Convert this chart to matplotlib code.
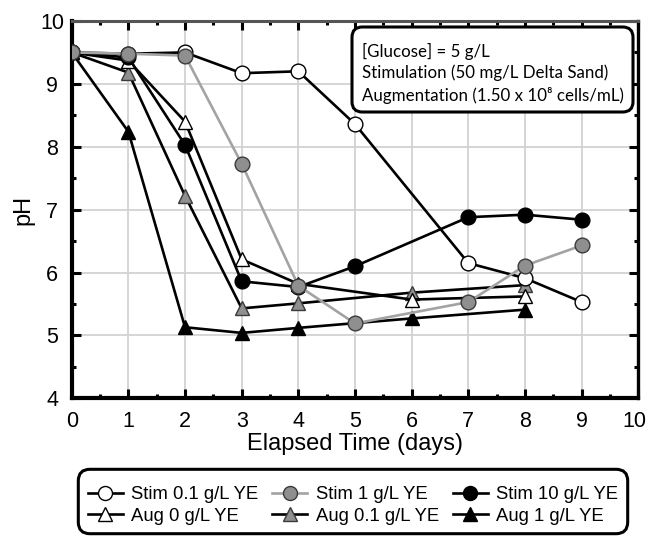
import matplotlib
matplotlib.use("Agg")
import matplotlib.pyplot as plt
from matplotlib.patches import FancyBboxPatch
from matplotlib.ticker import MultipleLocator, FuncFormatter

plt.rcParams['font.family'] = ['Liberation Sans', 'DejaVu Sans']

days_stim = [0, 1, 2, 3, 4, 5, 7, 8, 9]
stim_01 = [9.50, 9.48, 9.50, 9.17, 9.20, 8.36, 6.15, 5.91, 5.53]
stim_1 = [9.50, 9.48, 9.45, 7.73, 5.79, 5.19, 5.53, 6.11, 6.43]
stim_10 = [9.50, 9.42, 8.03, 5.86, 5.77, 6.10, 6.88, 6.92, 6.84]

days_aug = [0, 1, 2, 3, 4, 6, 8]
aug_0 = [9.50, 9.37, 8.40, 6.21, 5.82, 5.57, 5.62]
aug_01 = [9.50, 9.18, 7.22, 5.43, 5.51, 5.68, 5.80]
aug_1 = [9.50, 8.24, 5.13, 5.04, 5.12, 5.27, 5.41]

labels = ["Stim 0.1 g/L YE", "Stim 1 g/L YE", "Stim 10 g/L YE",
          "Aug 0 g/L YE", "Aug 0.1 g/L YE", "Aug 1 g/L YE"]
annot_lines = ["[Glucose] = 5 g/L", "Stimulation (50 mg/L Delta Sand)",
               "Augmentation (1.50 x 10\u2078 cells/mL)"]

GRAY = "#8f8f8f"
LGRAY = "#a3a3a3"
DEDGE = "#3a3a3a"

W, H = 646, 537
fig = plt.figure(figsize=(W / 100, H / 100), dpi=100)
ax = fig.add_axes([71.7 / W, 1 - 398.3 / H, 566.6 / W, 377.3 / H])

lw = 1.9
ms_c = 10.6
ms_t = 10.0
h = {}
h['a1'] = ax.plot(days_aug, aug_1, '-^', color='black', lw=lw, ms=ms_t, mfc='black', mec='black', mew=1, zorder=3)[0]
h['a01'] = ax.plot(days_aug, aug_01, '-^', color='black', lw=lw, ms=ms_t, mfc=GRAY, mec=DEDGE, mew=1, zorder=3)[0]
h['a0'] = ax.plot(days_aug, aug_0, '-^', color='black', lw=lw, ms=ms_t, mfc='white', mec='black', mew=1, zorder=3)[0]
h['s10'] = ax.plot(days_stim, stim_10, '-o', color='black', lw=lw, ms=ms_c, mfc='black', mec='black', mew=1, zorder=4)[0]
h['s01'] = ax.plot(days_stim, stim_01, '-o', color='black', lw=lw, ms=ms_c, mfc='white', mec='black', mew=1, zorder=4)[0]
h['s1'] = ax.plot(days_stim, stim_1, '-o', color=LGRAY, lw=lw, ms=ms_c, mfc=GRAY, mec=DEDGE, mew=1, zorder=5)[0]

XMAX = 10
ax.set_xlim(0, XMAX)
ax.set_ylim(4, 10)
ax.xaxis.set_major_locator(MultipleLocator(1))
ax.xaxis.set_minor_locator(MultipleLocator(0.5))
ax.yaxis.set_major_locator(MultipleLocator(1))
ax.yaxis.set_minor_locator(MultipleLocator(0.5))
ax.xaxis.set_major_formatter(FuncFormatter(lambda v, p: "" if v >= XMAX else f"{v:g}"))
ax.grid(True, which='major', color='#d2d2d2', lw=1.3, zorder=0)
ax.set_axisbelow(True)
ax.tick_params(which='both', direction='in', top=True, right=True, width=2.2, color='black')
ax.tick_params(which='major', length=6.5, labelsize=15.5)
ax.tick_params(which='minor', length=3.2)
ax.tick_params(axis='x', which='major', pad=9)
ax.tick_params(axis='y', which='major', pad=14)
for s in ['left', 'bottom']:
    ax.spines[s].set_linewidth(3)
ax.spines['right'].set_linewidth(2.4)
ax.spines['top'].set_linewidth(2.2)
ax.spines['top'].set_color('#555555')
ax.set_xlabel("Elapsed Time (days)", fontsize=17, labelpad=1)
ax.set_ylabel("pH", fontsize=17, labelpad=4)

# last x tick label, nudged left so it stays inside the figure
ax.annotate(f"{XMAX:g}", xy=(XMAX, 4), xycoords='data', xytext=(-3, -9),
            textcoords='offset points', ha='center', va='top', fontsize=15.5,
            annotation_clip=False)

fig.canvas.draw()
for lbl in ax.get_yticklabels():
    lbl.set_horizontalalignment('center')


def fx(px):
    return px / W


def fy(py):
    return 1 - py / H


# annotation box
ann_box = FancyBboxPatch((fx(352), fy(112)), fx(633) - fx(352), fy(27) - fy(112),
                         boxstyle='round,pad=0,rounding_size=0.016',
                         transform=fig.transFigure, fc='white', ec='black', lw=2.2,
                         zorder=10, mutation_aspect=W / H)
fig.add_artist(ann_box)
for line, yc in zip(annot_lines, [51.7, 73.2, 95.0]):
    fig.text(fx(362), fy(yc), line, family=['Lato', 'DejaVu Sans'], fontsize=12.2,
             ha='left', va='center', zorder=11)

# legend
handles = [h['s01'], h['a0'], h['s1'], h['a01'], h['s10'], h['a1']]
hl = [labels[0], labels[3], labels[1], labels[4], labels[2], labels[5]]
leg = fig.legend(handles, hl, ncol=3, loc='center', bbox_to_anchor=(fx(353), fy(505.5)),
                 fontsize=13.3, frameon=False, handlelength=1.9,
                 columnspacing=0.75, handletextpad=0.45, labelspacing=0.22,
                 borderpad=0.0, markerscale=0.95)
leg_box = FancyBboxPatch((fx(78.3), fy(533.7)), fx(627.7) - fx(78.3), fy(469.3) - fy(533.7),
                         boxstyle='round,pad=0,rounding_size=0.018',
                         transform=fig.transFigure, fc='white', ec='black', lw=2.2,
                         zorder=0, mutation_aspect=W / H)
fig.add_artist(leg_box)
leg.set_zorder(5)

fig.savefig("out.png", dpi=100)
